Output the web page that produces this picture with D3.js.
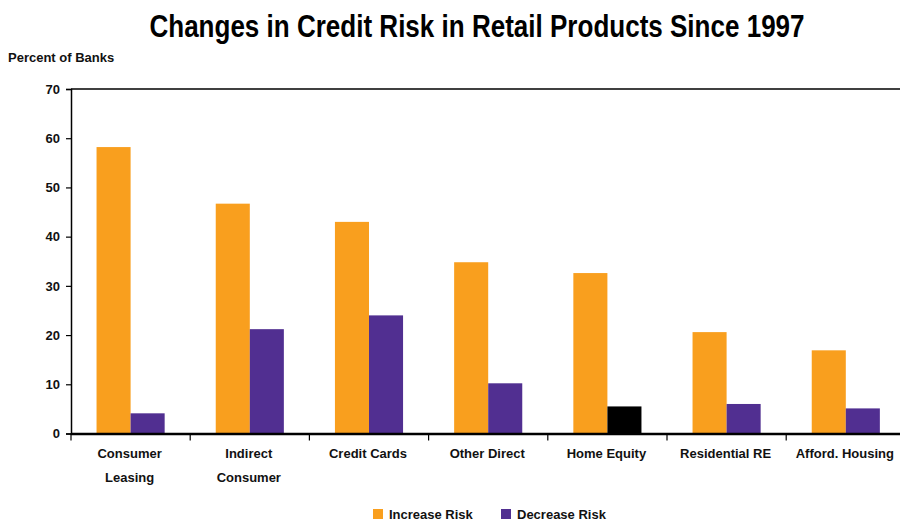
<!DOCTYPE html>
<html>
<head>
<meta charset="utf-8">
<script src="https://cdn.jsdelivr.net/npm/d3@7"></script>
<style>
  html, body { margin: 0; padding: 0; background: #fff; }
  svg { display: block; }
  .title { font-family: "Liberation Sans", Arial, sans-serif; font-weight: bold; font-size: 31px; }
  .lbl { font-family: "Liberation Sans", Arial, sans-serif; font-weight: bold; font-size: 13px; fill: #111; }
</style>
</head>
<body>
<svg id="chart" width="900" height="521"></svg>
<script>
// Survey results: share of banks reporting a change in credit risk, by retail product
const categories = [
  ["Consumer", "Leasing"],
  ["Indirect", "Consumer"],
  ["Credit Cards"],
  ["Other Direct"],
  ["Home Equity"],
  ["Residential RE"],
  ["Afford. Housing"]
];
const seriesNames = ["Increase Risk", "Decrease Risk"];
const increaseRisk = [58.2, 46.7, 43.0, 34.8, 32.6, 20.6, 16.9];
const decreaseRisk = [4.1, 21.2, 24.0, 10.2, 5.5, 6.0, 5.1];
const yTicks = [0, 10, 20, 30, 40, 50, 60, 70];

const colors = { "Increase Risk": "#F99F1E", "Decrease Risk": "#512F91" };
const highlightIndex = 4; // Home Equity's decrease bar is drawn in black

const svg = d3.select("#chart");
const margin = { left: 71, top: 89, bottom: 433.5 };
const plotRight = 71 + 7 * 119.2;

const keys = categories.map(c => c.join(" "));
const x0 = d3.scaleBand().domain(keys).range([margin.left, plotRight]).paddingInner(0).paddingOuter(0);
const x1 = d3.scaleBand().domain(seriesNames).range([0, x0.bandwidth()]).paddingInner(0).paddingOuter(0.75);
const y = d3.scaleLinear().domain([0, 70]).range([margin.bottom, margin.top]);

// Title, horizontally condensed
svg.append("text").attr("class", "title")
  .attr("transform", "translate(477,37) scale(0.84,1)")
  .attr("text-anchor", "middle")
  .text("Changes in Credit Risk in Retail Products Since 1997");

// Y-axis caption
svg.append("text").attr("class", "lbl")
  .attr("x", 8).attr("y", 62).attr("font-size", "12px")
  .text("Percent of Banks");

// Top frame line
svg.append("line")
  .attr("x1", margin.left).attr("x2", 900)
  .attr("y1", y(70)).attr("y2", y(70))
  .attr("stroke", "#000").attr("stroke-width", 1.5);

// Bars
const rows = keys.map((k, i) => ({ key: k, i, values: [increaseRisk[i], decreaseRisk[i]] }));
const groups = svg.append("g").selectAll("g").data(rows).join("g")
  .attr("transform", d => `translate(${x0(d.key)},0)`);
groups.selectAll("rect")
  .data(d => seriesNames.map((s, j) => ({ s, v: d.values[j], i: d.i })))
  .join("rect")
  .attr("x", d => x1(d.s))
  .attr("width", x1.bandwidth())
  .attr("y", d => y(d.v))
  .attr("height", d => y(0) - y(d.v))
  .attr("fill", d => (d.s === "Decrease Risk" && d.i === highlightIndex) ? "#000" : colors[d.s]);

// Y axis
const yAxis = svg.append("g").attr("transform", `translate(${margin.left},0)`)
  .call(d3.axisLeft(y).tickValues(yTicks).tickSize(5).tickPadding(6).tickFormat(d3.format("d")));
yAxis.select(".domain").attr("stroke", "#000").attr("stroke-width", 1.5);
yAxis.selectAll(".tick line").attr("stroke", "#000").attr("stroke-width", 1.2);
yAxis.selectAll(".tick text").attr("class", "lbl").attr("font-size", null).attr("font-family", null);

// X axis with ticks between categories
const boundaries = keys.map(k => x0(k)).concat([plotRight]);
svg.append("line")
  .attr("x1", margin.left).attr("x2", 900)
  .attr("y1", y(0) + 0.5).attr("y2", y(0) + 0.5)
  .attr("stroke", "#000").attr("stroke-width", 2.5);
svg.append("g").selectAll("line").data(boundaries).join("line")
  .attr("x1", d => d).attr("x2", d => d)
  .attr("y1", y(0)).attr("y2", y(0) + 7)
  .attr("stroke", "#000").attr("stroke-width", 1.2);

// Category labels
const labels = svg.append("g").selectAll("text").data(rows).join("text")
  .attr("class", "lbl")
  .attr("text-anchor", "middle")
  .attr("x", d => x0(d.key) + x0.bandwidth() / 2 - 1)
  .attr("y", 458);
labels.selectAll("tspan").data(d => categories[d.i]).join("tspan")
  .attr("x", function () { return d3.select(this.parentNode).attr("x"); })
  .attr("dy", (d, j) => j === 0 ? 0 : 24)
  .text(d => d);

// Legend
const legend = svg.append("g").selectAll("g").data(seriesNames).join("g")
  .attr("transform", (d, i) => `translate(${373 + i * 128},509)`);
legend.append("rect").attr("width", 10).attr("height", 10).attr("fill", d => colors[d]);
legend.append("text").attr("class", "lbl").attr("x", 16).attr("y", 10).text(d => d);
</script>
</body>
</html>
